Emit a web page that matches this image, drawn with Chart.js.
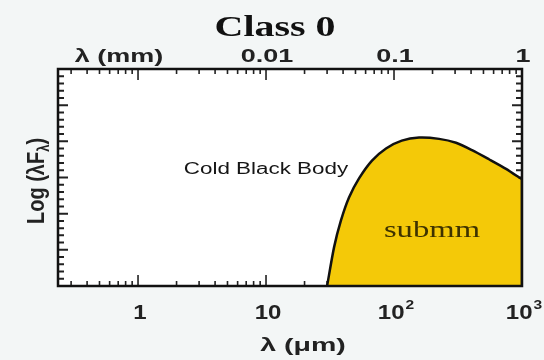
<!DOCTYPE html>
<html>
<head>
<meta charset="utf-8">
<script src="https://cdn.jsdelivr.net/npm/chart.js@4"></script>
<style>
  html, body { margin: 0; padding: 0; background: #f3f6f6; }
  #wrap { width: 544px; height: 360px; }
</style>
</head>
<body>
<div id="wrap"><canvas id="sed" width="544" height="360"></canvas></div>
<script>
// wavelength in micron, and log(lambda F_lambda) in arbitrary decades
const lambdaUm = [30, 34, 38.5, 44.5, 53.3, 67.3, 86.6, 115, 157, 225, 305, 407, 552, 750, 948, 1000, 1000];
const logFlux  = [0, 0.89, 1.51, 2.04, 2.48, 2.89, 3.17, 3.35, 3.42, 3.39, 3.30, 3.13, 2.92, 2.70, 2.50, 2.45, 0];

// bottom axis (micron) and top axis (mm) labels
const bottomTicks = [1, 10, 100, 1000];
const bottomBase  = ["1", "10", "10", "10"];
const bottomSup   = ["", "", "2", "3"];
const topTicks    = [10, 100, 1000];
const topLabels   = ["0.01", "0.1", "1"];

const xMin = 0.237, xMax = 1000;
const yMin = 0, yMax = 5;

function stretchText(ctx, txt, x, y, font, sx, align, color) {
    ctx.save();
    ctx.font = font;
    ctx.fillStyle = color || "#111";
    ctx.textBaseline = "alphabetic";
    ctx.translate(x, y);
    ctx.scale(sx, 1);
    const w = ctx.measureText(txt).width;
    let dx = 0;
    if (align === "center") dx = -w / 2;
    else if (align === "right") dx = -w;
    ctx.fillText(txt, dx, 0);
    ctx.restore();
    return w * sx;
}

const frame = {
    id: "frame",
    beforeDraw(chart) {
        const { ctx, chartArea: a } = chart;
        ctx.save();
        ctx.fillStyle = "#f3f6f6";
        ctx.fillRect(0, 0, chart.width, chart.height);
        ctx.fillStyle = "#ffffff";
        ctx.fillRect(a.left, a.top, a.right - a.left, a.bottom - a.top);
        ctx.restore();
    },
    beforeDatasetsDraw(chart) {
        const { ctx, chartArea: a, scales: { x, y } } = chart;
        ctx.save();
        ctx.strokeStyle = "#222";
        ctx.lineWidth = 1.6;
        ctx.beginPath();
        // log ticks on top and bottom
        for (let d = -1; d <= 3; d++) {
            for (let k = 1; k <= 9; k++) {
                const v = k * Math.pow(10, d);
                if (v < xMin || v > xMax) continue;
                const px = x.getPixelForValue(v);
                const len = k === 1 ? 11 : 5;
                ctx.moveTo(px, a.bottom); ctx.lineTo(px, a.bottom - len);
                ctx.moveTo(px, a.top); ctx.lineTo(px, a.top + len);
            }
        }
        ctx.stroke();
        // evenly spaced ticks on left and right
        ctx.lineWidth = 2;
        ctx.beginPath();
        const n = 30;
        for (let i = 1; i < n; i++) {
            const py = y.getPixelForValue(yMin + (yMax - yMin) * i / n);
            const len = i % 5 === 0 ? 10 : 6;
            ctx.moveTo(a.left, py); ctx.lineTo(a.left + len, py);
            ctx.moveTo(a.right, py); ctx.lineTo(a.right - len, py);
        }
        ctx.stroke();
        ctx.restore();
    },
    afterDatasetsDraw(chart) {
        const { ctx, chartArea: a } = chart;
        ctx.save();
        ctx.strokeStyle = "#111";
        ctx.lineWidth = 2.5;
        ctx.strokeRect(a.left, a.top, a.right - a.left, a.bottom - a.top);
        ctx.restore();
    },
    afterDraw(chart) {
        const { ctx, scales: { x } } = chart;
        // title
        stretchText(ctx, "Class 0", 275, 36, "bold 30px 'Liberation Serif'", 1.33, "center", "#111");
        // top axis
        stretchText(ctx, "\u03bb (mm)", 119, 62, "bold 19px 'Liberation Sans'", 1.42, "center", "#222");
        topTicks.forEach((v, i) => {
            stretchText(ctx, topLabels[i], x.getPixelForValue(v) + 1, 62, "bold 19px 'Liberation Sans'", 1.42, "center", "#222");
        });
        // bottom axis
        bottomTicks.forEach((v, i) => {
            const px = x.getPixelForValue(v);
            ctx.save();
            ctx.font = "bold 20px 'Liberation Sans'";
            const wb = ctx.measureText(bottomBase[i]).width * 1.2;
            ctx.font = "bold 13px 'Liberation Sans'";
            const ws = bottomSup[i] ? ctx.measureText(bottomSup[i]).width * 1.2 + 1 : 0;
            ctx.restore();
            const x0 = px + 2 - (wb + ws) / 2;
            stretchText(ctx, bottomBase[i], x0, 319, "bold 20px 'Liberation Sans'", 1.2, "left", "#222");
            if (bottomSup[i]) {
                stretchText(ctx, bottomSup[i], x0 + wb + 1, 309, "bold 13px 'Liberation Sans'", 1.2, "left", "#222");
            }
        });
        stretchText(ctx, "\u03bb (\u03bcm)", 303, 351, "bold 19px 'Liberation Sans'", 1.5, "center", "#222");
        // y axis label, rotated
        ctx.save();
        ctx.translate(44, 181);
        ctx.rotate(-Math.PI / 2);
        ctx.scale(1, 1.2);
        ctx.fillStyle = "#222";
        ctx.textBaseline = "alphabetic";
        ctx.font = "bold 20px 'Liberation Sans'";
        const p1 = "Log (\u03bbF";
        const w1 = ctx.measureText(p1).width;
        ctx.font = "bold 13px 'Liberation Sans'";
        const w2 = ctx.measureText("\u03bb").width;
        ctx.font = "bold 20px 'Liberation Sans'";
        const w3 = ctx.measureText(")").width;
        const sx = -(w1 + w2 + w3) / 2;
        ctx.fillText(p1, sx, 0);
        ctx.font = "bold 13px 'Liberation Sans'";
        ctx.fillText("\u03bb", sx + w1, 4);
        ctx.font = "bold 20px 'Liberation Sans'";
        ctx.fillText(")", sx + w1 + w2, 0);
        ctx.restore();
        // annotations
        stretchText(ctx, "Cold Black Body", 266, 174, "16px 'Liberation Sans'", 1.4, "center", "#151515");
        stretchText(ctx, "submm", 432, 237, "23px 'Liberation Serif'", 1.42, "center", "#3d3200");
    }
};

new Chart(document.getElementById("sed").getContext("2d"), {
    type: "line",
    data: {
        datasets: [{
            data: lambdaUm.map((l, i) => ({ x: l, y: logFlux[i] })),
            borderColor: "#111",
            borderWidth: 2.5,
            backgroundColor: "#f4c908",
            fill: "origin",
            pointRadius: 0,
            tension: 0.25
        }]
    },
    options: {
        responsive: false,
        animation: false,
        layout: { padding: { left: 58, right: 22, top: 69, bottom: 74 } },
        plugins: { legend: { display: false }, tooltip: { enabled: false } },
        scales: {
            x: { type: "logarithmic", min: xMin, max: xMax, display: false },
            y: { type: "linear", min: yMin, max: yMax, display: false }
        }
    },
    plugins: [frame]
});
</script>
</body>
</html>
